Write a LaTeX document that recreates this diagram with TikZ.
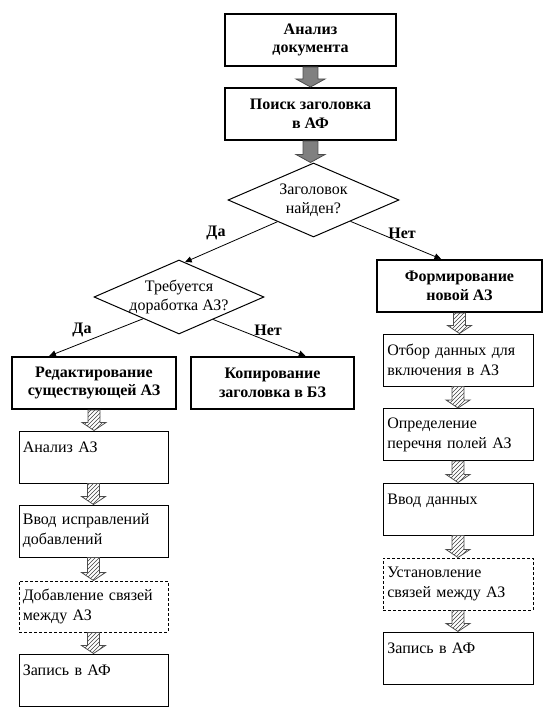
\documentclass[tikz,border=0pt]{standalone}
\usepackage{fontspec}
\setmainfont{Liberation Serif}
\usetikzlibrary{shapes.geometric,arrows.meta,calc,patterns}
\newcommand\blkarrow[5]{\draw[#1] let \p1=(#2.south), \p2=(#3.north) in
  (\x1-#4,\y1) -- (\x1+#4,\y1) -- (\x1+#4,\y2+6pt) -- (\x1+#5,\y2+6pt) -- (\x1,\y2)
  -- (\x1-#5,\y2+6pt) -- (\x1-#4,\y2+6pt) -- cycle;}
\begin{document}
\begin{tikzpicture}[x=0.75pt,y=-0.75pt,
 every node/.style={font=\rmfamily\fontsize{12}{14}\selectfont},
 bbox/.style={draw, line width=1.5pt, font=\rmfamily\fontsize{12}{14}\selectfont\bfseries, align=center, inner sep=0pt, minimum height=39pt},
 pbox/.style={draw, line width=0.75pt, align=left, inner xsep=2.5pt, inner ysep=0pt, text width=106pt, minimum height=39pt, font=\rmfamily\fontsize{12}{15}\selectfont},
 dbox/.style={pbox, dash pattern=on 2.25pt off 1.5pt},
 dec/.style={draw, diamond, aspect=2.3, line width=0.75pt, inner xsep=-12pt, inner ysep=-6pt, align=center},
 conn/.style={-{Triangle[length=5pt,width=4.5pt]}, line width=0.6pt},
 lbl/.style={font=\rmfamily\fontsize{12}{14}\selectfont\bfseries},
 harrow/.style={draw=black!70, pattern=north east lines, pattern color=black!75, line width=0.6pt},
 garrow/.style={draw=black!70, fill=black!50, line width=0.6pt}
]
\useasboundingbox (0,0) rectangle (553,709);

\node[bbox, minimum width=128.25pt] (b1) at (310.5,40) {Анализ\\документа};
\node[bbox, minimum width=128.25pt] (b2) at (310.5,114) {Поиск заголовка\\в АФ};
\node[dec, minimum width=128.25pt, minimum height=55.5pt] (d1) at (313.5,200) {Заголовок\\найден?};
\node[dec, minimum width=127.5pt, minimum height=55.5pt] (d2) at (179,297) {Требуется\\доработка АЗ?};
\node[bbox, minimum width=123.75pt] (f) at (459.5,286) {Формирование\\новой АЗ};
\node[bbox, minimum width=123pt] (r) at (94,383) {Редактирование\\существующей АЗ};
\node[bbox, minimum width=122.25pt] (k) at (272.5,383) {Копирование\\заголовка в БЗ};

\node[pbox, minimum width=111.75pt] (l1) at (93.5,457) {Анализ АЗ\\\mbox{}};
\node[pbox, minimum width=111.75pt] (l2) at (93.5,531) {Ввод исправлений\\добавлений};
\node[dbox, minimum width=111.75pt, minimum height=38.25pt] (l3) at (93.5,606.5) {Добавление связей\\между АЗ};
\node[pbox, minimum width=111.75pt] (l4) at (93.5,680) {Запись в АФ\\\mbox{}};

\node[pbox, minimum width=112.5pt] (p1) at (458,360) {Отбор данных для\\включения в АЗ};
\node[pbox, minimum width=112.5pt] (p2) at (458,434.5) {Определение\\перечня полей АЗ};
\node[pbox, minimum width=112.5pt] (p3) at (458,509) {Ввод данных\\\mbox{}};
\node[dbox, minimum width=112.5pt] (p4) at (458,584) {Установление\\связей между АЗ};
\node[pbox, minimum width=112.5pt] (p5) at (458,658) {Запись в АФ\\\mbox{}};

\blkarrow{garrow}{b1}{b2}{5.6pt}{10.9pt}
\blkarrow{garrow}{b2}{d1}{5.6pt}{10.9pt}

\blkarrow{harrow}{r}{l1}{4.5pt}{9pt}
\blkarrow{harrow}{l1}{l2}{4.5pt}{9pt}
\blkarrow{harrow}{l2}{l3}{4.5pt}{9pt}
\blkarrow{harrow}{l3}{l4}{4.5pt}{9pt}
\blkarrow{harrow}{f}{p1}{4.5pt}{9pt}
\blkarrow{harrow}{p1}{p2}{4.5pt}{9pt}
\blkarrow{harrow}{p2}{p3}{4.5pt}{9pt}
\blkarrow{harrow}{p3}{p4}{4.5pt}{9pt}
\blkarrow{harrow}{p4}{p5}{4.5pt}{9pt}

\draw[conn] ($(d1.west)!0.58!(d1.south)$) -- ($(d2.north)!0.07!(d2.east)$);
\draw[conn] ($(d1.south)!0.43!(d1.east)$) -- ($(f.north west)!0.39!(f.north east)$);
\draw[conn] ($(d2.west)!0.58!(d2.south)$) -- ($(r.north west)!0.23!(r.north east)$);
\draw[conn] ($(d2.south)!0.4!(d2.east)$) -- ($(k.north west)!0.70!(k.north east)$);

\node[lbl] (yes1) at (216,233) {Да};
\node[lbl] (no1) at (402,233) {Нет};
\node[lbl] (yes2) at (82,330) {Да};
\node[lbl] (no2) at (268,330) {Нет};
\end{tikzpicture}
\end{document}
